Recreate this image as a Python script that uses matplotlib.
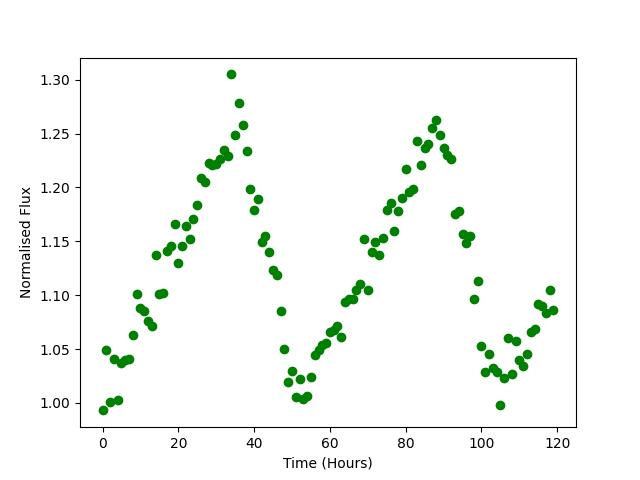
import numpy as np
import matplotlib
matplotlib.use("Agg")
import matplotlib.pyplot as plt

# czas w godzinach
time_h = np.arange(120)

# znormalizowany strumień
flux = [
    0.993, 1.049, 1.001, 1.041, 1.003, 1.037, 1.040, 1.041, 1.063, 1.101,
    1.088, 1.085, 1.076, 1.071, 1.137, 1.101, 1.102, 1.141, 1.146, 1.166,
    1.130, 1.146, 1.164, 1.152, 1.171, 1.184, 1.209, 1.205, 1.223, 1.221,
    1.222, 1.226, 1.235, 1.229, 1.305, 1.249, 1.278, 1.258, 1.234, 1.199,
    1.179, 1.189, 1.149, 1.155, 1.140, 1.123, 1.119, 1.085, 1.050, 1.019,
    1.030, 1.005, 1.022, 1.004, 1.006, 1.024, 1.044, 1.049, 1.054, 1.056,
    1.066, 1.068, 1.071, 1.061, 1.094, 1.096, 1.096, 1.105, 1.110, 1.152,
    1.105, 1.140, 1.149, 1.137, 1.153, 1.179, 1.186, 1.160, 1.178, 1.190,
    1.217, 1.196, 1.199, 1.243, 1.221, 1.237, 1.240, 1.255, 1.263, 1.249,
    1.237, 1.230, 1.226, 1.175, 1.178, 1.157, 1.148, 1.155, 1.096, 1.113,
    1.053, 1.029, 1.045, 1.032, 1.029, 0.998, 1.023, 1.060, 1.027, 1.057,
    1.040, 1.034, 1.045, 1.066, 1.069, 1.092, 1.090, 1.083, 1.105, 1.086,
]

plt.figure(figsize=(6.4, 4.8), dpi=100)
plt.plot(time_h, flux, "o", color="green")
plt.xlabel("Time (Hours)")
plt.ylabel("Normalised Flux")
plt.savefig("out.png")
